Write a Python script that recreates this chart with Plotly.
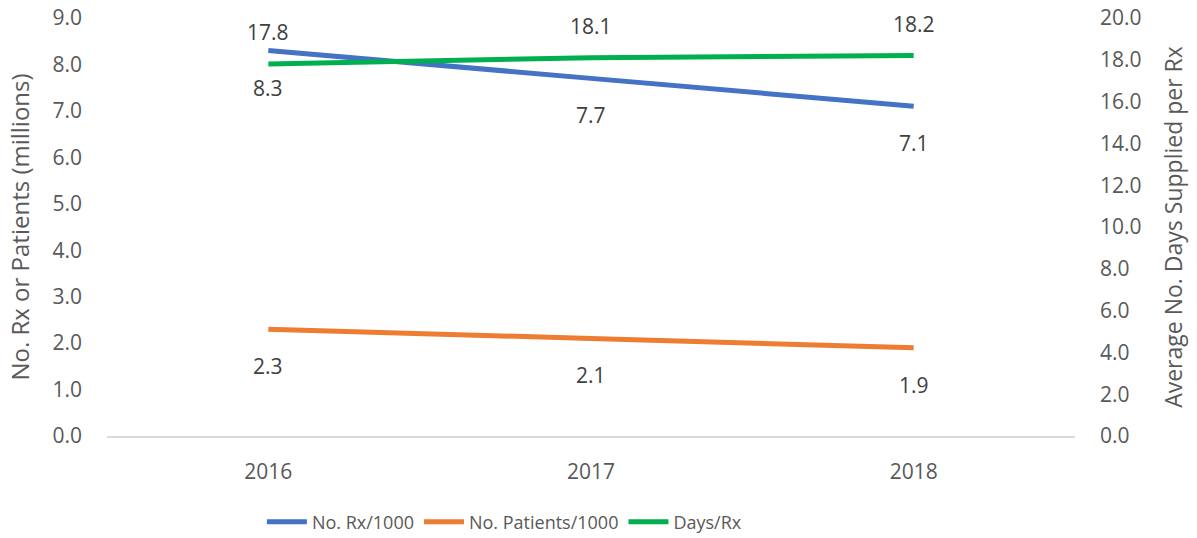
import plotly.graph_objects as go

years = ["2016", "2017", "2018"]
rx_per_1000 = [8.3, 7.7, 7.1]
patients_per_1000 = [2.3, 2.1, 1.9]
days_per_rx = [17.8, 18.1, 18.2]
left_ticks = [0, 1, 2, 3, 4, 5, 6, 7, 8, 9]
right_ticks = [0, 2, 4, 6, 8, 10, 12, 14, 16, 18, 20]

FONT = "Open Sans"
TICK_COLOR = "#595959"
LABEL_COLOR = "#404040"
TICK_SIZE = 21

fig = go.Figure()
fig.add_trace(go.Scatter(x=years, y=rx_per_1000, name="No. Rx/1000", mode="lines",
                         line=dict(color="#4472C4", width=5, shape="spline", smoothing=0.6)))
fig.add_trace(go.Scatter(x=years, y=patients_per_1000, name="No. Patients/1000", mode="lines",
                         line=dict(color="#ED7D31", width=5, shape="spline", smoothing=0.6)))
fig.add_trace(go.Scatter(x=years, y=days_per_rx, name="Days/Rx", mode="lines", yaxis="y2",
                         line=dict(color="#00B050", width=5, shape="spline", smoothing=0.6)))

annotations = []
lab_font = dict(family=FONT, size=TICK_SIZE, color=LABEL_COLOR)
for i, v in enumerate(rx_per_1000):
    annotations.append(dict(x=i, y=v, xref="x", yref="y", text=f"{v:.1f}", showarrow=False,
                            yshift=-37, font=lab_font))
for i, v in enumerate(patients_per_1000):
    annotations.append(dict(x=i, y=v, xref="x", yref="y", text=f"{v:.1f}", showarrow=False,
                            yshift=-37, font=lab_font))
for i, v in enumerate(days_per_rx):
    annotations.append(dict(x=i, y=v, xref="x", yref="y2", text=f"{v:.1f}", showarrow=False,
                            yshift=32, font=lab_font))

fig.update_layout(
    width=1197, height=538,
    margin=dict(l=107, r=122, t=18, b=102, autoexpand=False),
    paper_bgcolor="white", plot_bgcolor="white",
    font=dict(family=FONT, size=TICK_SIZE, color=TICK_COLOR),
    showlegend=True,
    legend=dict(orientation="h", x=0.16, xanchor="left", y=-0.206, yanchor="middle",
                font=dict(family=FONT, size=18, color=TICK_COLOR), itemwidth=40,
                traceorder="normal"),
    xaxis=dict(type="category", range=[-0.5, 2.5], showgrid=False, showline=True,
               linecolor="#D9D9D9", linewidth=1.5, ticks="", zeroline=False,
               ticklabelstandoff=16,
               tickfont=dict(family=FONT, size=TICK_SIZE, color=TICK_COLOR)),
    yaxis=dict(range=[0, 9], tickvals=left_ticks, ticktext=[f"{t:.1f}" for t in left_ticks],
               showgrid=False, zeroline=False, showline=False, ticks="",
               ticklabelstandoff=24,
               title=dict(text="No. Rx or Patients (millions)", font=dict(family=FONT, size=24, color=TICK_COLOR), standoff=16),
               tickfont=dict(family=FONT, size=TICK_SIZE, color=TICK_COLOR)),
    yaxis2=dict(range=[0, 20], overlaying="y", side="right", tickvals=right_ticks,
                ticktext=[f"{t:.1f}" for t in right_ticks], showgrid=False, zeroline=False,
                showline=False, ticks="", ticklabelstandoff=24,
                title=dict(text="Average No. Days Supplied per Rx", font=dict(family=FONT, size=23, color=TICK_COLOR), standoff=25),
                tickfont=dict(family=FONT, size=TICK_SIZE, color=TICK_COLOR)),
    annotations=annotations,
)

fig.write_html("out.html", config={"displayModeBar": False},
               post_script="document.body.style.margin='0';")
